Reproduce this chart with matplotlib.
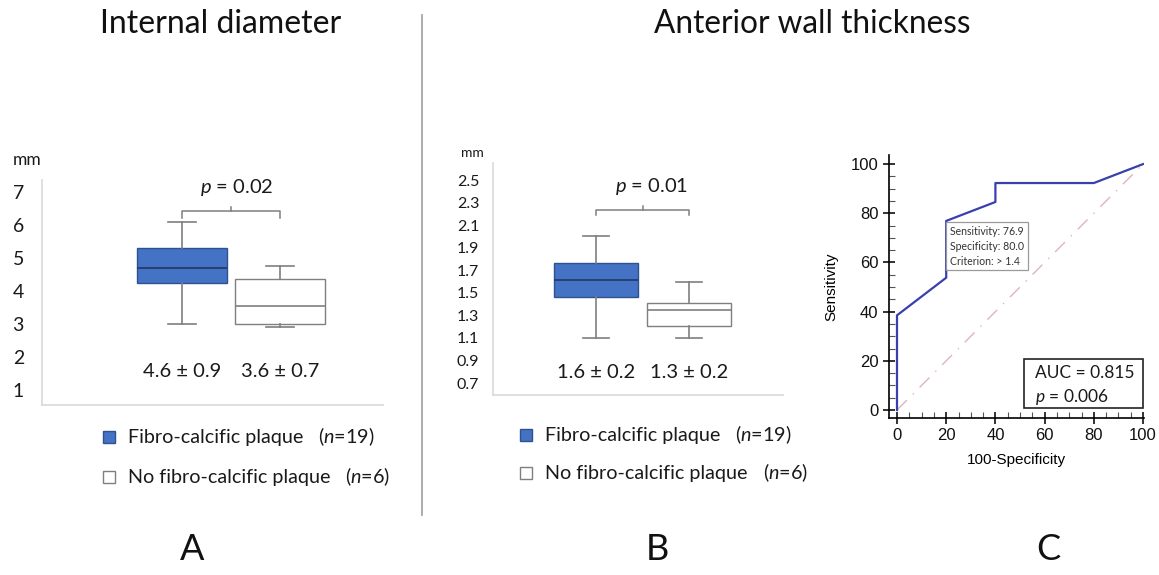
import numpy as np
import matplotlib
matplotlib.use('Agg')
import matplotlib.pyplot as plt
from matplotlib.patches import Rectangle

plt.rcParams['font.family'] = ['Lato', 'DejaVu Sans']
plt.rcParams['mathtext.fontset'] = 'custom'
plt.rcParams['mathtext.it'] = 'Lato:italic'
plt.rcParams['mathtext.rm'] = 'Lato'

# ---- data
groups = ['Fibro-calcific plaque', 'No fibro-calcific plaque']
n_per_group = [19, 6]

diam_q1 = [4.25, 3.0]
diam_med = [4.7, 3.55]
diam_q3 = [5.3, 4.37]
diam_lo = [3.0, 2.9]
diam_hi = [6.1, 4.75]
diam_text = ['4.6 ± 0.9', '3.6 ± 0.7']
diam_p = '0.02'
diam_ticks = [1, 2, 3, 4, 5, 6, 7]

wall_q1 = [1.46, 1.21]
wall_med = [1.61, 1.35]
wall_q3 = [1.76, 1.41]
wall_lo = [1.1, 1.1]
wall_hi = [2.0, 1.6]
wall_text = ['1.6 ± 0.2', '1.3 ± 0.2']
wall_p = '0.01'
wall_ticks = [0.7, 0.9, 1.1, 1.3, 1.5, 1.7, 1.9, 2.1, 2.3, 2.5]

roc_x = [0, 0, 20, 20, 40, 40, 80, 100]
roc_y = [0, 38.5, 53.8, 76.9, 84.6, 92.3, 92.3, 100]
roc_sens = 76.9
roc_spec = 80.0
roc_crit = '> 1.4'
roc_auc = '0.815'
roc_p = '0.006'

BLUE = '#4472C4'
BLUE_EDGE = '#2F528F'
GREY = '#7f7f7f'
TXT = '#1a1a1a'

W, H = 1159, 575
fig = plt.figure(figsize=(W / 100, H / 100), dpi=100)


def px_axes(left, top, right, bottom):
    return fig.add_axes([left / W, (H - bottom) / H, (right - left) / W, (bottom - top) / H])


def box_panel(ax, q1, med, q3, lo, hi, width, capw):
    stats = []
    for i in range(2):
        stats.append(dict(med=med[i], q1=q1[i], q3=q3[i], whislo=lo[i], whishi=hi[i], fliers=[]))
    bp = ax.bxp(stats, positions=[1, 2], widths=width, patch_artist=True, showfliers=False,
                capwidths=capw,
                whiskerprops=dict(color=GREY, lw=1.2),
                capprops=dict(color=GREY, lw=1.2),
                medianprops=dict(lw=1.2))
    bp['boxes'][0].set(facecolor=BLUE, edgecolor=BLUE_EDGE, lw=1)
    bp['boxes'][1].set(facecolor='white', edgecolor=GREY, lw=1)
    bp['medians'][0].set_color('#203864')
    bp['medians'][1].set_color(GREY)
    for s in ['top', 'right']:
        ax.spines[s].set_visible(False)
    for s in ['left', 'bottom']:
        ax.spines[s].set_color('#d9d9d9')
        ax.spines[s].set_linewidth(1.2)
    ax.set_xticks([])
    ax.tick_params(axis='y', length=0, colors=TXT)
    ax.patch.set_alpha(0)


def bracket(ax, y, drop, rise, ptxt, ytxt, xtxt):
    ax.plot([1, 1, 2, 2], [y - drop, y, y, y - drop], color=GREY, lw=1.1)
    ax.plot([1.5, 1.5], [y, y + rise], color=GREY, lw=1.1)
    ax.text(xtxt, ytxt, r'$p$ = ' + ptxt, ha='center', va='center', fontsize=14.5, color=TXT)


# ---- panel A
axA = px_axes(42, 180, 383, 405)
box_panel(axA, diam_q1, diam_med, diam_q3, diam_lo, diam_hi, 0.92, 0.28)
axA.set_xlim(-0.43, 3.05)
axA.set_ylim(0.55, 7.36)
axA.set_yticks(diam_ticks)
axA.tick_params(axis='y', labelsize=14, pad=13)
bracket(axA, 6.42, 0.2, 0.13, diam_p, 7.12, 1.56)
for i, t in enumerate(diam_text):
    axA.text(i + 1, 1.55, t, ha='center', va='center', fontsize=14.5, color=TXT)

# ---- panel B
axB = px_axes(493, 163, 783, 395)
box_panel(axB, wall_q1, wall_med, wall_q3, wall_lo, wall_hi, 0.9, 0.28)
axB.set_xlim(-0.108, 3.01)
axB.set_ylim(0.594, 2.651)
axB.set_yticks(wall_ticks)
axB.set_yticklabels([f'{v:.1f}' for v in wall_ticks])
axB.tick_params(axis='y', labelsize=11.5, pad=10)
bracket(axB, 2.234, 0.045, 0.04, wall_p, 2.44, 1.6)
for i, t in enumerate(wall_text):
    axB.text(i + 1, 0.79, t, ha='center', va='center', fontsize=14.5, color=TXT)

# ---- panel C (ROC)
axC = px_axes(889, 155, 1144, 418)
axC.plot([0, 100], [0, 100], color='#e0b4bd', lw=1, ls=(0, (10, 6, 1, 6)))
axC.plot(roc_x, roc_y, color='#3a3fae', lw=1.6)
axC.set_xlim(-3.25, 100.4)
axC.set_ylim(-3.25, 103.7)
axC.set_xticks(np.arange(0, 101, 20))
axC.set_yticks(np.arange(0, 101, 20))
axC.set_xticks(np.arange(0, 101, 5), minor=True)
axC.set_yticks(np.arange(0, 101, 5), minor=True)
axC.tick_params(which='major', direction='inout', length=8, width=1.2, labelsize=12,
                labelfontfamily='Liberation Sans', colors='#111111')
axC.tick_params(which='minor', direction='in', length=4, width=0.8, colors='#555555')
for s in ['top', 'right']:
    axC.spines[s].set_visible(False)
for s in ['left', 'bottom']:
    axC.spines[s].set_linewidth(1.2)
axC.set_xlabel('100-Specificity', fontsize=11, family='Liberation Sans', labelpad=7)
axC.set_ylabel('Sensitivity', fontsize=11, family='Liberation Sans', labelpad=9)
axC.text(21.5, 75.0,
         f'Sensitivity: {roc_sens:.1f}\nSpecificity: {roc_spec:.1f}\nCriterion: {roc_crit}',
         ha='left', va='top', fontsize=7.6, color='#333333', linespacing=1.45,
         bbox=dict(boxstyle='square,pad=0.35', facecolor='white', edgecolor='#9a9a9a', lw=0.9))
axC.add_patch(Rectangle((51.6, 0.8), 48.4, 19.9, facecolor='white', edgecolor='#222222', lw=1.2, zorder=3))
axC.text(56, 15, 'AUC = ' + roc_auc, fontsize=12.5, va='center', ha='left', color=TXT, zorder=4)
axC.text(56, 5.3, r'$p$ = ' + roc_p, fontsize=12.5, va='center', ha='left', color=TXT, zorder=4)
axC.patch.set_alpha(0)

# ---- overlay in pixel coordinates: titles, legends, letters, separator
ov = fig.add_axes([0, 0, 1, 1], zorder=-1)
ov.set_xlim(0, W)
ov.set_ylim(H, 0)
ov.axis('off')
ov.plot([422, 422], [15, 515], color='#a6a6a6', lw=1.3)
ov.text(221, 24, 'Internal diameter', ha='center', va='center', fontsize=23, color='#111111')
ov.text(812, 24, 'Anterior wall thickness', ha='center', va='center', fontsize=22.7, color='#111111')
for x, lab in zip([192, 657, 1048], ['A', 'B', 'C']):
    ov.text(x, 549, lab, ha='center', va='center', fontsize=26, color='#111111')
ov.text(27, 160, 'mm', ha='center', va='center', fontsize=12.5, color=TXT)
ov.text(472, 153, 'mm', ha='center', va='center', fontsize=10, color=TXT)

legend_pos = [(103, 128, 318, 345, 437, 477), (520, 545, 735, 763, 435, 473)]
for sx, tx, nx1, nx2, y1, y2 in legend_pos:
    ys = [y1, y2]
    nxs = [nx1, nx2]
    for i in range(2):
        fc = BLUE if i == 0 else 'white'
        ec = BLUE_EDGE if i == 0 else GREY
        ov.add_patch(Rectangle((sx, ys[i] - 6), 12, 12, facecolor=fc, edgecolor=ec, lw=1))
        ov.text(tx, ys[i], groups[i], ha='left', va='center', fontsize=14.2, color=TXT)
        ov.text(nxs[i], ys[i], r'($n$=' + str(n_per_group[i]) + ')', ha='left', va='center',
                fontsize=14.2, color=TXT)

fig.savefig('out.png', dpi=100, facecolor='white')
